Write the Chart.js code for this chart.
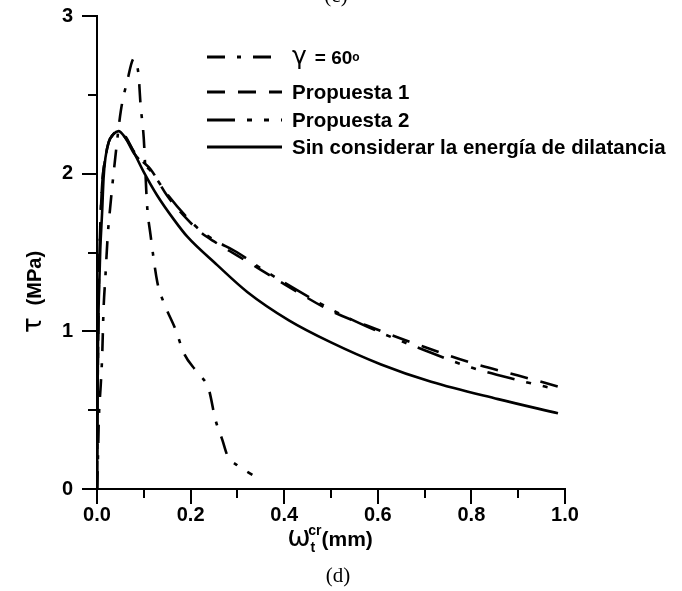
<!DOCTYPE html>
<html>
<head>
<meta charset="utf-8">
<script src="https://cdn.jsdelivr.net/npm/chart.js@4.4.1/dist/chart.umd.min.js"></script>
<style>
  body { margin: 0; background: #fff; }
</style>
</head>
<body>
<canvas id="chart" width="682" height="591"></canvas>
<script>
// series labels
const seriesLabels = ['γ = 60°', 'Propuesta 1', 'Propuesta 2', 'Sin considerar la energía de dilatancia'];

// gamma = 60 deg
const gammaX = [0, 0.002, 0.004, 0.008, 0.011, 0.014, 0.018, 0.023, 0.028, 0.039, 0.051, 0.064, 0.079, 0.083, 0.089, 0.093, 0.1, 0.107, 0.114, 0.129, 0.143, 0.168, 0.186, 0.214, 0.239, 0.253, 0.268, 0.279, 0.3, 0.332];
const gammaY = [0, 0.2, 0.45, 0.66, 0.84, 1.14, 1.35, 1.61, 1.78, 2.10, 2.40, 2.58, 2.73, 2.71, 2.62, 2.44, 2.22, 1.80, 1.62, 1.31, 1.18, 1.01, 0.86, 0.74, 0.63, 0.44, 0.31, 0.21, 0.15, 0.09];

// Propuesta 1
const prop1X = [0, 0.001, 0.003, 0.005, 0.008, 0.012, 0.018, 0.025, 0.035, 0.045, 0.06, 0.079, 0.1, 0.114, 0.15, 0.193, 0.221, 0.25, 0.3, 0.35, 0.4, 0.5, 0.6, 0.7, 0.8, 0.9, 0.985];
const prop1Y = [0, 0.5, 1.1, 1.45, 1.75, 1.97, 2.10, 2.20, 2.25, 2.27, 2.24, 2.14, 2.07, 2.03, 1.86, 1.71, 1.63, 1.57, 1.48, 1.39, 1.30, 1.13, 1.01, 0.90, 0.80, 0.72, 0.65];

// Propuesta 2
const prop2X = [0, 0.001, 0.003, 0.005, 0.008, 0.012, 0.018, 0.025, 0.035, 0.045, 0.06, 0.079, 0.1, 0.114, 0.15, 0.193, 0.221, 0.25, 0.3, 0.35, 0.4, 0.5, 0.6, 0.7, 0.8, 0.9, 0.985];
const prop2Y = [0, 0.5, 1.1, 1.45, 1.75, 1.97, 2.10, 2.20, 2.25, 2.27, 2.23, 2.13, 2.06, 2.02, 1.87, 1.72, 1.64, 1.58, 1.50, 1.40, 1.31, 1.14, 1.00, 0.88, 0.77, 0.69, 0.63];

// Sin considerar la energia de dilatancia
const baseX = [0, 0.001, 0.002, 0.004, 0.007, 0.011, 0.014, 0.018, 0.025, 0.035, 0.046, 0.06, 0.071, 0.1, 0.129, 0.164, 0.193, 0.257, 0.321, 0.41, 0.5, 0.607, 0.714, 0.857, 0.985];
const baseY = [0, 0.5, 0.9, 1.22, 1.52, 1.76, 1.97, 2.10, 2.20, 2.25, 2.27, 2.23, 2.18, 2.01, 1.86, 1.71, 1.60, 1.42, 1.25, 1.07, 0.93, 0.79, 0.68, 0.57, 0.48];

const xTickLabels = ['0.0', '0.2', '0.4', '0.6', '0.8', '1.0'];
const yTickLabels = ['0', '1', '2', '3'];

const SANS = '"Liberation Sans", Arial, sans-serif';
const GREEK = '"DejaVu Sans", sans-serif';

function pts(xs, ys) {
  return xs.map((x, i) => ({ x: x, y: ys[i] }));
}

// draw a list of text runs side by side
function drawRuns(ctx, runs, x, y, align) {
  let total = 0;
  runs.forEach(r => { ctx.font = r.font; total += ctx.measureText(r.text).width + (r.gap || 0); });
  let cx = align === 'center' ? x - total / 2 : x;
  ctx.textBaseline = 'alphabetic';
  ctx.textAlign = 'left';
  runs.forEach(r => {
    ctx.font = r.font;
    ctx.fillText(r.text, cx, y + (r.dy || 0));
    cx += ctx.measureText(r.text).width + (r.gap || 0);
  });
}

// minor / major tick marks
const tickMarks = {
  id: 'tickMarks',
  afterDraw(chart) {
    const ctx = chart.ctx;
    const xs = chart.scales.x, ys = chart.scales.y;
    ctx.save();
    ctx.strokeStyle = '#000';
    ctx.lineWidth = 2;
    for (let i = 0; i <= 10; i++) {
      const px = Math.round(xs.getPixelForValue(i / 10));
      const len = i % 2 === 0 ? 15 : 9;
      ctx.beginPath();
      ctx.moveTo(px, ys.bottom);
      ctx.lineTo(px, ys.bottom + len);
      ctx.stroke();
    }
    for (let i = 0; i <= 6; i++) {
      const py = Math.round(ys.getPixelForValue(i / 2));
      const len = i % 2 === 0 ? 15 : 9;
      ctx.beginPath();
      ctx.moveTo(xs.left, py);
      ctx.lineTo(xs.left - len, py);
      ctx.stroke();
    }
    ctx.restore();
  }
};

// legend with line samples
const lineLegend = {
  id: 'lineLegend',
  afterDraw(chart) {
    const ctx = chart.ctx;
    const rows = [57, 92, 120, 147];
    ctx.save();
    ctx.fillStyle = '#000';
    chart.data.datasets.forEach((ds, i) => {
      const y = rows[i];
      ctx.strokeStyle = '#000';
      ctx.lineWidth = 3;
      ctx.setLineDash(ds.borderDash || []);
      ctx.beginPath();
      ctx.moveTo(207, y);
      ctx.lineTo(282, y);
      ctx.stroke();
      ctx.setLineDash([]);
      if (ds.label.startsWith('γ')) {
        drawRuns(ctx, [
          { text: 'γ', font: '25px ' + GREEK, dy: 7, gap: 8 },
          { text: '= 60', font: 'bold 19px ' + SANS, dy: 7 },
          { text: 'o', font: 'bold 12px ' + SANS, dy: 4 }
        ], 292, y, 'left');
      } else {
        drawRuns(ctx, [{ text: ds.label, font: 'bold 20.5px ' + SANS, dy: 7 }], 292, y, 'left');
      }
    });
    ctx.restore();
  }
};

// axis titles and caption
const titles = {
  id: 'titles',
  afterDraw(chart) {
    const ctx = chart.ctx;
    const area = chart.chartArea;
    ctx.save();
    ctx.fillStyle = '#000';
    // x title
    drawRuns(ctx, [
      { text: 'ω', font: '28px ' + GREEK },
      { text: 't', font: 'bold 14px ' + SANS, dy: 6, gap: -7 },
      { text: 'cr', font: 'bold 14px ' + SANS, dy: -11 },
      { text: '(mm)', font: 'bold 21px ' + SANS }
    ], 330, 546, 'center');
    // y title
    ctx.translate(34, 292);
    ctx.rotate(-Math.PI / 2);
    drawRuns(ctx, [
      { text: 'τ', font: '26px ' + GREEK, gap: 12 },
      { text: '(MPa)', font: 'bold 20px ' + SANS }
    ], 0, 7, 'center');
    ctx.restore();
    // caption (d) and the cut-off (c) of the panel above
    ctx.save();
    ctx.fillStyle = '#000';
    ctx.font = '21px "Liberation Serif", "Times New Roman", serif';
    ctx.textAlign = 'center';
    ctx.textBaseline = 'alphabetic';
    ctx.fillText('(d)', 338, 582);
    ctx.fillText('(c)', 336, 2);
    ctx.restore();
  }
};

const dashes = [[18, 12, 4, 12], [18, 13], [28, 12, 5, 12, 5, 12], []];
const seriesData = [pts(gammaX, gammaY), pts(prop1X, prop1Y), pts(prop2X, prop2Y), pts(baseX, baseY)];

new Chart(document.getElementById('chart'), {
  type: 'line',
  data: {
    datasets: seriesLabels.map((label, i) => ({
      label: label,
      data: seriesData[i],
      borderColor: '#000',
      borderWidth: 2.6,
      borderDash: dashes[i],
      pointRadius: 0,
      cubicInterpolationMode: 'monotone',
      fill: false
    }))
  },
  options: {
    responsive: false,
    animation: false,
    devicePixelRatio: 1,
    layout: { padding: { left: 0, top: 16, right: 117, bottom: 0 } },
    plugins: {
      legend: { display: false },
      tooltip: { enabled: false }
    },
    scales: {
      x: {
        type: 'linear',
        min: 0,
        max: 1,
        afterFit(scale) {
          scale.height = 102;
          scale.paddingLeft = 0;
          scale.paddingRight = 0;
        },
        grid: { display: false },
        border: { display: true, color: '#000', width: 2 },
        ticks: {
          stepSize: 0.1,
          autoSkip: false,
          maxRotation: 0,
          padding: 6,
          color: '#000',
          font: { family: SANS, size: 20, weight: 'bold' },
          callback(v) {
            const s = v.toFixed(1);
            return xTickLabels.includes(s) ? s : '';
          }
        }
      },
      y: {
        min: 0,
        max: 3,
        afterFit(scale) {
          scale.width = 97;
          scale.paddingTop = 0;
          scale.paddingBottom = 0;
        },
        grid: { display: false },
        border: { display: true, color: '#000', width: 2 },
        ticks: {
          stepSize: 0.5,
          autoSkip: false,
          padding: 16,
          color: '#000',
          font: { family: SANS, size: 20, weight: 'bold' },
          callback(v) {
            const s = String(v);
            return yTickLabels.includes(s) ? s : '';
          }
        }
      }
    }
  },
  plugins: [tickMarks, lineLegend, titles]
});
</script>
</body>
</html>
